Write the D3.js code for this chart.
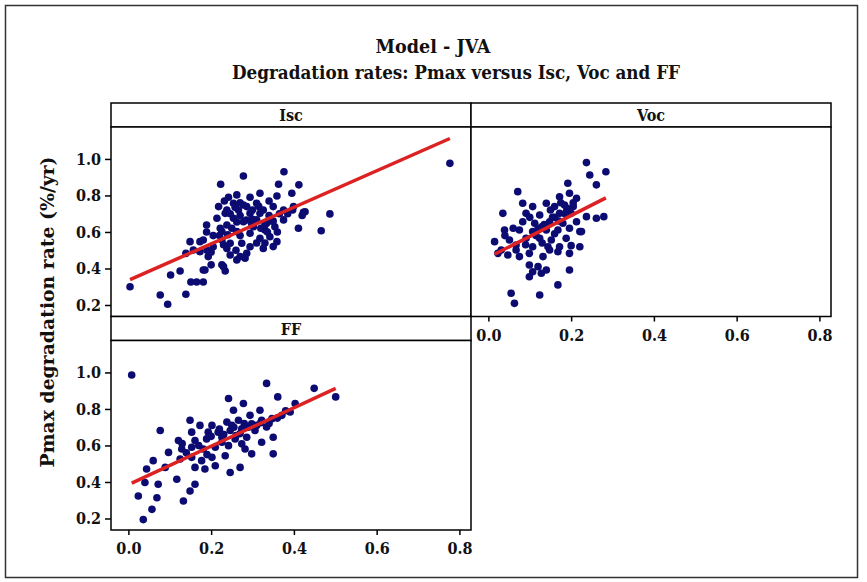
<!DOCTYPE html>
<html>
<head>
<meta charset="utf-8">
<script src="https://cdn.jsdelivr.net/npm/d3@7"></script>
<style>
  body { margin: 0; background: #fff; }
  svg { display: block; }
  svg text { font-family: "DejaVu Serif Condensed", "Liberation Serif", "DejaVu Serif", serif; font-stretch: condensed; font-weight: 700; fill: #111; }
</style>
</head>
<body>
<svg id="chart" width="867" height="582"></svg>
<script>
// Panel names (facets) and the x/y pairs plotted in each
const panelNames = ["Isc", "Voc", "FF"];

const iscX = [0.004,0.077,0.095,0.139,0.102,0.125,0.151,0.165,0.181,0.149,0.173,0.139,0.185,0.200,0.234,0.230,0.189,0.189,0.214,0.223,
  0.278,0.376,0.363,0.412,0.395,0.487,0.466,0.411,0.423,0.777,0.242,0.294,0.359,0.254,0.278,0.310,0.266,0.238,0.294,0.326,
  0.350,0.375,0.399,0.427,0.254,0.238,0.278,0.310,0.334,0.330,0.354,0.375,0.226,0.262,0.294,0.318,0.342,0.359,0.181,0.226,
  0.246,0.274,0.205,0.238,0.294,0.326,0.246,0.270,0.286,0.262,0.282,0.157,0.173,0.193,0.226,0.181,0.262,0.318,0.234,0.302,
  0.318,0.286,0.218,0.397,0.250,0.270,0.300,0.340,0.360,0.220,0.310,0.260,0.330,0.345,0.200,
  0.232,0.258,0.246,0.270,0.285,0.262,0.298,0.320,0.336,0.350,0.365,0.300,0.315,0.340,0.222,0.205,0.240,0.330,0.350,0.385,
  0.420,0.270,0.230,0.190];
const iscY = [0.300,0.255,0.204,0.259,0.364,0.386,0.326,0.326,0.326,0.547,0.547,0.483,0.392,0.420,0.386,0.410,0.638,0.600,0.675,0.861,
  0.907,0.930,0.861,0.858,0.812,0.699,0.607,0.620,0.708,0.976,0.790,0.790,0.797,0.757,0.748,0.757,0.720,0.720,0.702,0.720,
  0.739,0.720,0.739,0.711,0.675,0.638,0.656,0.666,0.648,0.611,0.629,0.666,0.602,0.602,0.593,0.565,0.574,0.547,0.556,0.556,
  0.538,0.538,0.519,0.510,0.519,0.510,0.474,0.465,0.483,0.447,0.456,0.501,0.492,0.465,0.420,0.392,0.803,0.812,0.702,0.629,
  0.702,0.739,0.739,0.720,0.620,0.580,0.670,0.690,0.600,0.580,0.540,0.500,0.640,0.660,0.490,
  0.770,0.735,0.700,0.690,0.665,0.655,0.645,0.620,0.600,0.660,0.700,0.720,0.740,0.770,0.620,0.580,0.585,0.540,0.520,0.700,
  0.690,0.760,0.530,0.500];

const vocX = [0.237,0.245,0.284,0.261,0.192,0.071,0.196,0.172,0.213,0.083,0.107,0.140,0.160,0.184,0.035,0.091,0.124,0.172,0.200,0.237,
  0.261,0.279,0.083,0.112,0.148,0.180,0.213,0.039,0.075,0.107,0.140,0.168,0.196,0.221,0.091,0.124,0.152,0.188,0.015,0.051,
  0.067,0.107,0.144,0.172,0.221,0.023,0.047,0.075,0.099,0.031,0.148,0.168,0.196,0.132,0.067,0.099,0.120,0.107,0.128,0.099,
  0.140,0.196,0.168,0.124,0.055,0.063,0.225,0.200,0.160,0.190,0.130,0.205,
  0.100,0.120,0.135,0.155,0.170,0.185,0.190,0.175,0.205,0.160,0.115,0.090,0.040,0.060,0.130,0.150];
const vocY = [0.980,0.912,0.930,0.858,0.867,0.821,0.812,0.793,0.785,0.757,0.739,0.757,0.739,0.748,0.702,0.702,0.693,0.702,0.702,0.684,
  0.675,0.684,0.656,0.648,0.656,0.648,0.656,0.611,0.611,0.602,0.611,0.611,0.620,0.602,0.565,0.565,0.556,0.565,0.547,0.556,
  0.529,0.519,0.519,0.519,0.519,0.483,0.474,0.465,0.483,0.501,0.501,0.492,0.483,0.465,0.501,0.419,0.410,0.382,0.374,0.355,
  0.392,0.392,0.310,0.255,0.264,0.209,0.602,0.525,0.680,0.720,0.630,0.740,
  0.680,0.620,0.640,0.680,0.660,0.700,0.730,0.760,0.760,0.590,0.580,0.530,0.580,0.620,0.540,0.720];

const ffX = [0.008,0.334,0.449,0.501,0.361,0.242,0.278,0.318,0.403,0.391,0.254,0.294,0.149,0.077,0.173,0.202,0.238,0.266,0.298,0.322,
  0.347,0.371,0.193,0.217,0.246,0.274,0.306,0.334,0.121,0.161,0.189,0.226,0.258,0.286,0.322,0.350,0.097,0.129,0.153,0.181,
  0.210,0.242,0.274,0.298,0.350,0.125,0.153,0.177,0.202,0.234,0.161,0.185,0.210,0.246,0.270,0.060,0.044,0.089,0.117,0.072,
  0.040,0.161,0.149,0.024,0.069,0.133,0.057,0.036,0.226,0.282,0.153,0.255,0.230,
  0.220,0.250,0.270,0.290,0.310,0.260,0.200,0.230,0.320,0.280,0.140,0.170,0.190,0.130,0.340,0.360,0.380];
const ffY = [0.986,0.940,0.913,0.866,0.866,0.857,0.830,0.793,0.830,0.783,0.793,0.765,0.738,0.682,0.710,0.710,0.728,0.738,0.719,0.738,
  0.747,0.765,0.673,0.673,0.682,0.692,0.682,0.701,0.627,0.627,0.636,0.645,0.636,0.645,0.618,0.645,0.562,0.581,0.590,0.581,
  0.590,0.599,0.609,0.554,0.554,0.526,0.535,0.517,0.535,0.544,0.480,0.471,0.489,0.452,0.480,0.517,0.471,0.480,0.415,0.388,
  0.397,0.388,0.351,0.323,0.314,0.296,0.250,0.194,0.618,0.581,0.673,0.700,0.660,
  0.690,0.710,0.665,0.700,0.710,0.655,0.650,0.660,0.725,0.720,0.560,0.600,0.550,0.610,0.720,0.750,0.790];

// Least-squares fit for each panel: y = intercept + slope * x
const fitIntercept = [0.335, 0.461, 0.385];
const fitSlope = [1.000, 1.147, 1.053];

const xTicks = [0.0, 0.2, 0.4, 0.6, 0.8];
const yTicks = [0.2, 0.4, 0.6, 0.8, 1.0];

const titleText = "Model - JVA";
const subtitleText = "Degradation rates: Pmax versus Isc, Voc and FF";
const yTitleText = "Pmax degradation rate (%/yr)";

// ---- layout ----
const svg = d3.select("#chart");
const left = 111, colW = 360;
const top0 = 103, stripH = 24, plotH = 189.5;
const rowTop = r => top0 + r * (stripH + plotH);

const panels = [
  { name: panelNames[0], col: 0, row: 0, xs: iscX, ys: iscY, yAxis: true,  xAxis: false },
  { name: panelNames[1], col: 1, row: 0, xs: vocX, ys: vocY, yAxis: false, xAxis: true  },
  { name: panelNames[2], col: 0, row: 1, xs: ffX,  ys: ffY,  yAxis: true,  xAxis: true  }
];

const dotColor = "#0b0b72";
const lineColor = "#dc2222";

// outer frame
svg.append("rect")
  .attr("x", 5.5).attr("y", 5.5).attr("width", 852).attr("height", 572)
  .attr("fill", "none").attr("stroke", "#333").attr("stroke-width", 1.5);

// titles
svg.append("text").attr("x", 433).attr("y", 53).attr("text-anchor", "middle")
  .attr("font-size", 19).attr("textLength", 115).attr("lengthAdjust", "spacingAndGlyphs")
  .text(titleText);
svg.append("text").attr("x", 456).attr("y", 79).attr("text-anchor", "middle")
  .attr("font-size", 19).attr("textLength", 448).attr("lengthAdjust", "spacingAndGlyphs")
  .text(subtitleText);

// y-axis title
svg.append("text")
  .attr("transform", "translate(54,312) rotate(-90)")
  .attr("text-anchor", "middle").attr("font-size", 18)
  .attr("textLength", 311).attr("lengthAdjust", "spacingAndGlyphs")
  .text(yTitleText);

panels.forEach((p, i) => {
  const x0 = left + p.col * colW;
  const sTop = rowTop(p.row);
  const pTop = sTop + stripH;
  const pBot = pTop + plotH;

  const x = d3.scaleLinear().domain([-0.042, 0.828]).range([x0, x0 + colW]);
  const y = d3.scaleLinear().domain([0.137, 1.175]).range([pBot, pTop]);

  const g = svg.append("g");

  // strip header
  g.append("rect").attr("x", x0).attr("y", sTop).attr("width", colW).attr("height", stripH)
    .attr("fill", "#fff").attr("stroke", "#000").attr("stroke-width", 1.5);
  g.append("text").attr("x", x0 + colW / 2).attr("y", sTop + 18)
    .attr("text-anchor", "middle").attr("font-size", 16).text(p.name);

  // plot area
  g.append("rect").attr("x", x0).attr("y", pTop).attr("width", colW).attr("height", plotH)
    .attr("fill", "#fff").attr("stroke", "#000").attr("stroke-width", 1.5);

  // points
  const pts = p.xs.map((v, k) => [v, p.ys[k]]);
  g.append("g").selectAll("circle").data(pts).join("circle")
    .attr("cx", d => x(d[0])).attr("cy", d => y(d[1])).attr("r", 3.8)
    .attr("fill", dotColor);

  // fitted line over the data range
  const [xmin, xmax] = d3.extent(p.xs);
  const line = d3.line().x(d => x(d)).y(d => y(fitIntercept[i] + fitSlope[i] * d));
  g.append("path").datum([xmin, xmax]).attr("d", line)
    .attr("fill", "none").attr("stroke", lineColor).attr("stroke-width", 3.5);

  // axes
  if (p.yAxis) {
    const ax = g.append("g").attr("transform", `translate(${x0},0)`)
      .call(d3.axisLeft(y).tickValues(yTicks).tickFormat(d3.format(".1f")).tickSize(6).tickPadding(4));
    ax.select(".domain").remove();
    ax.selectAll("line").attr("stroke", "#000").attr("stroke-width", 1.5);
    ax.selectAll("text").attr("font-size", 16).attr("fill", "#111");
  }
  if (p.xAxis) {
    const ax = g.append("g").attr("transform", `translate(0,${pBot})`)
      .call(d3.axisBottom(x).tickValues(xTicks).tickFormat(d3.format(".1f")).tickSize(5).tickPadding(8));
    ax.select(".domain").remove();
    ax.selectAll("line").attr("stroke", "#000").attr("stroke-width", 1.5);
    ax.selectAll("text").attr("font-size", 16).attr("fill", "#111");
  }
});
</script>
</body>
</html>
